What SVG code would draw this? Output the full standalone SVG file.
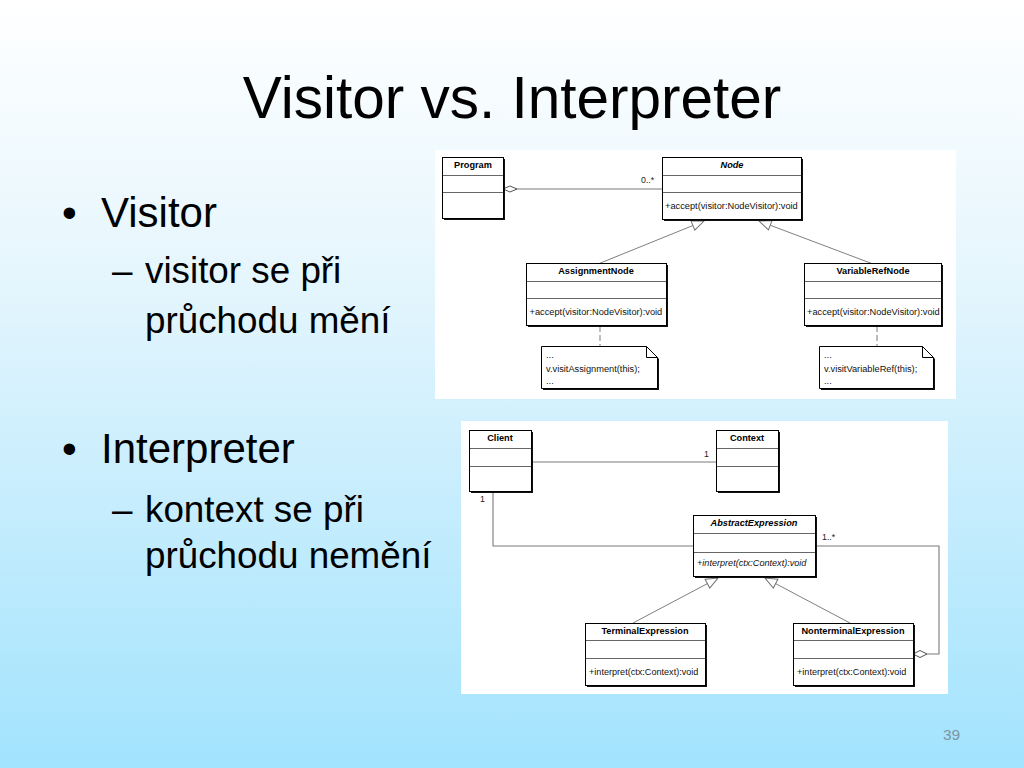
<svg xmlns="http://www.w3.org/2000/svg" width="1024" height="768" viewBox="0 0 1024 768">
<defs>
<linearGradient id="bg" x1="0" y1="0" x2="0" y2="1">
<stop offset="0" stop-color="#ffffff"/>
<stop offset="0.35" stop-color="#e6f6fd"/>
<stop offset="1" stop-color="#a2e3fd"/>
</linearGradient>
<marker id="gen" viewBox="0 0 14 12" refX="13" refY="6" markerWidth="14" markerHeight="12" markerUnits="userSpaceOnUse" orient="auto">
<path d="M1,1 L13,6 L1,11 Z" fill="#ffffff" stroke="#707070" stroke-width="1"/>
</marker>
<marker id="agg" viewBox="0 0 16 8" refX="1" refY="4" markerWidth="16" markerHeight="8" markerUnits="userSpaceOnUse" orient="auto">
<path d="M1,4 L8,1 L15,4 L8,7 Z" fill="#ffffff" stroke="#555555" stroke-width="1"/>
</marker>
</defs>
<style>
.title{font-family:"Liberation Sans",Arial,sans-serif;font-size:58.5px;fill:#000}
.b1{font-family:"Liberation Sans",Arial,sans-serif;font-size:42px;fill:#000}
.b2{font-family:"Liberation Sans",Arial,sans-serif;font-size:36.8px;fill:#000}
.pg{font-family:"Liberation Sans",Arial,sans-serif;font-size:15.5px;fill:#7c95a3}
.sh{fill:#111}
.box{fill:#fff;stroke:#000;stroke-width:1}
.cmp{stroke:#666;stroke-width:1.2}
.nm{font-family:"Liberation Sans",Arial,sans-serif;font-size:9.2px;font-weight:bold;fill:#000;text-anchor:middle}
.op{font-family:"Liberation Sans",Arial,sans-serif;font-size:9.25px;fill:#111}
.op2{font-family:"Liberation Sans",Arial,sans-serif;font-size:9.1px;fill:#111}
.lbl{font-family:"Liberation Sans",Arial,sans-serif;font-size:8.8px;fill:#222}
.it{font-style:italic}
.con{fill:none;stroke:#7a7a7a;stroke-width:1.1}
.gl{fill:none;stroke:#707070;stroke-width:0.9;marker-end:url(#gen)}
.dash{fill:none;stroke:#888;stroke-width:1.1;stroke-dasharray:6,3}
.panel{fill:#fff}
</style>
<rect x="0" y="0" width="1024" height="768" fill="url(#bg)"/>
<text class="title" x="512" y="118" text-anchor="middle">Visitor vs. Interpreter</text>
<g id="bullets">
<text class="b1" x="62" y="227">•</text>
<text class="b1" x="101" y="227">Visitor</text>
<text class="b2" x="112" y="283">–</text>
<text class="b2" x="145" y="283">visitor se při</text>
<text class="b2" x="145" y="333">průchodu mění</text>
<text class="b1" x="62" y="463">•</text>
<text class="b1" x="101" y="463">Interpreter</text>
<text class="b2" x="112" y="522">–</text>
<text class="b2" x="145" y="522">kontext se při</text>
<text class="b2" x="145" y="568">průchodu nemění</text>
</g>
<text class="pg" x="943" y="740">39</text>

<!-- Top diagram (Visitor) -->
<rect class="panel" x="435" y="150" width="521" height="249"/>
<g id="v-connectors">
<line class="con" x1="503" y1="189" x2="662" y2="189" marker-start="url(#agg)"/>
<text class="lbl" x="641" y="183">0..*</text>
<line class="gl" x1="598" y1="264" x2="704" y2="221"/>
<line class="gl" x1="873" y1="264" x2="759" y2="221"/>
<line class="dash" x1="600" y1="326" x2="600" y2="346"/>
<line class="dash" x1="877" y1="326" x2="877" y2="346"/>
</g>
<g id="Program">
<rect class="sh" x="444" y="159" width="61" height="61"/>
<rect class="box" x="442.5" y="157.5" width="61" height="61"/>
<line class="cmp" x1="443" y1="175.5" x2="503" y2="175.5"/>
<line class="cmp" x1="443" y1="192.5" x2="503" y2="192.5"/>
<text class="nm" x="473" y="168">Program</text>
</g>
<g id="Node">
<rect class="sh" x="664" y="159" width="139" height="62"/>
<rect class="box" x="662.5" y="157.5" width="139" height="62"/>
<line class="cmp" x1="663" y1="175.5" x2="801" y2="175.5"/>
<line class="cmp" x1="663" y1="192.5" x2="801" y2="192.5"/>
<text class="nm it" x="732" y="168">Node</text>
<text class="op" x="665" y="209">+accept(visitor:NodeVisitor):void</text>
</g>
<g id="AssignmentNode">
<rect class="sh" x="528" y="265" width="140" height="62"/>
<rect class="box" x="526.5" y="263.5" width="140" height="62"/>
<line class="cmp" x1="527" y1="281.5" x2="666" y2="281.5"/>
<line class="cmp" x1="527" y1="298.5" x2="666" y2="298.5"/>
<text class="nm" x="596" y="274">AssignmentNode</text>
<text class="op" x="529.5" y="315">+accept(visitor:NodeVisitor):void</text>
</g>
<g id="VariableRefNode">
<rect class="sh" x="806" y="265" width="137" height="62"/>
<rect class="box" x="804.5" y="263.5" width="137" height="62"/>
<line class="cmp" x1="805" y1="281.5" x2="941" y2="281.5"/>
<line class="cmp" x1="805" y1="298.5" x2="941" y2="298.5"/>
<text class="nm" x="873" y="274">VariableRefNode</text>
<text class="op" x="807" y="315">+accept(visitor:NodeVisitor):void</text>
</g>
<g id="AssignmentNote">
<path class="sh" d="M543,348 H648 L659,359 V390 H543 Z"/>
<path class="box" d="M541.5,346.5 H646.5 L657.5,357.5 V388.5 H541.5 Z"/>
<path d="M646.5,346.5 V357.5 H657.5" fill="none" stroke="#000" stroke-width="1"/>
<text class="op" x="546" y="358" font-size="7.5">...</text>
<text class="op" x="546" y="372">v.visitAssignment(this);</text>
<text class="op" x="546" y="384" font-size="7.5">...</text>
</g>
<g id="VariableRefNote">
<path class="sh" d="M821,348 H924 L935,359 V390 H821 Z"/>
<path class="box" d="M819.5,346.5 H922.5 L933.5,357.5 V388.5 H819.5 Z"/>
<path d="M922.5,346.5 V357.5 H933.5" fill="none" stroke="#000" stroke-width="1"/>
<text class="op" x="824" y="358" font-size="7.5">...</text>
<text class="op" x="824" y="372">v.visitVariableRef(this);</text>
<text class="op" x="824" y="384" font-size="7.5">...</text>
</g>

<!-- Bottom diagram (Interpreter) -->
<rect class="panel" x="461" y="421" width="487" height="273"/>
<g id="i-connectors">
<line class="con" x1="532" y1="462" x2="716" y2="462"/>
<text class="lbl" x="704" y="457">1</text>
<polyline class="con" points="493,491 493,546 693,546"/>
<text class="lbl" x="480" y="502">1</text>
<polyline class="con" points="815,546 939,546 939,654 927,654"/>
<path d="M913,654 L920,650.5 L927,654 L920,657.5 Z" fill="#fff" stroke="#555" stroke-width="1"/>
<text class="lbl" x="822" y="540">1..*</text>
<line class="gl" x1="633" y1="623" x2="718" y2="578"/>
<line class="gl" x1="850" y1="623" x2="765" y2="578"/>
</g>
<g id="Client">
<rect class="sh" x="471" y="432" width="62" height="61"/>
<rect class="box" x="469.5" y="430.5" width="62" height="61"/>
<line class="cmp" x1="470" y1="448.5" x2="531" y2="448.5"/>
<line class="cmp" x1="470" y1="466.5" x2="531" y2="466.5"/>
<text class="nm" x="500" y="441">Client</text>
</g>
<g id="Context">
<rect class="sh" x="718" y="432" width="62" height="61"/>
<rect class="box" x="716.5" y="430.5" width="62" height="61"/>
<line class="cmp" x1="717" y1="448.5" x2="778" y2="448.5"/>
<line class="cmp" x1="717" y1="466.5" x2="778" y2="466.5"/>
<text class="nm" x="747" y="441">Context</text>
</g>
<g id="AbstractExpression">
<rect class="sh" x="695" y="517" width="122" height="61"/>
<rect class="box" x="693.5" y="515.5" width="122" height="61"/>
<line class="cmp" x1="694" y1="533.5" x2="815" y2="533.5"/>
<line class="cmp" x1="694" y1="552.5" x2="815" y2="552.5"/>
<text class="nm it" x="754" y="526">AbstractExpression</text>
<text class="op2 it" x="697" y="566">+interpret(ctx:Context):void</text>
</g>
<g id="TerminalExpression">
<rect class="sh" x="587" y="625" width="120" height="62"/>
<rect class="box" x="585.5" y="623.5" width="120" height="62"/>
<line class="cmp" x1="586" y1="640.5" x2="705" y2="640.5"/>
<line class="cmp" x1="586" y1="658.5" x2="705" y2="658.5"/>
<text class="nm" x="645" y="634">TerminalExpression</text>
<text class="op2" x="589" y="675">+interpret(ctx:Context):void</text>
</g>
<g id="NonterminalExpression">
<rect class="sh" x="795" y="625" width="120" height="62"/>
<rect class="box" x="793.5" y="623.5" width="120" height="62"/>
<line class="cmp" x1="794" y1="640.5" x2="913" y2="640.5"/>
<line class="cmp" x1="794" y1="658.5" x2="913" y2="658.5"/>
<text class="nm" x="853" y="634">NonterminalExpression</text>
<text class="op2" x="797" y="675">+interpret(ctx:Context):void</text>
</g>
</svg>
